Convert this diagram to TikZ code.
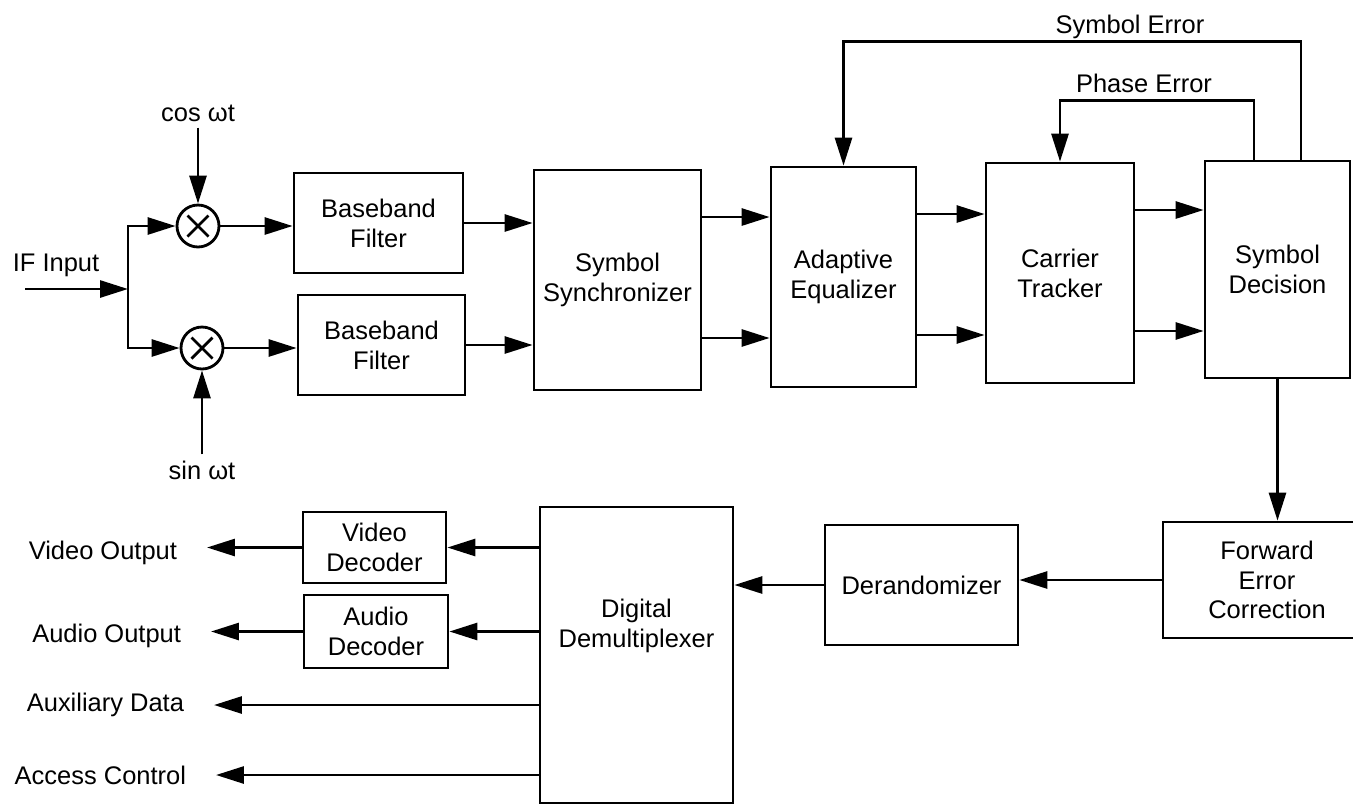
\documentclass[tikz,border=0pt]{standalone}
\usepackage{fontspec}
\setmainfont{Liberation Sans}
\usetikzlibrary{arrows.meta}

\begin{document}
\begin{tikzpicture}[x=0.02cm, y=-0.02cm,
    font=\fontsize{14.5}{17}\selectfont,
    block/.style={draw, line width=1.6pt, align=center, inner sep=0pt},
    mixer/.style={draw, circle, line width=1.6pt, minimum size=0.84cm, inner sep=0pt,
        path picture={\draw[line width=1.6pt]
            ([shift={(-0.21cm,0.21cm)}]path picture bounding box.center) -- ([shift={(0.21cm,-0.21cm)}]path picture bounding box.center)
            ([shift={(-0.21cm,-0.21cm)}]path picture bounding box.center) -- ([shift={(0.21cm,0.21cm)}]path picture bounding box.center);}},
    arr/.style={-{Triangle[length=0.56cm, width=0.34cm]}, line width=1.6pt},
    outlabel/.style={anchor=east, inner xsep=0pt, outer xsep=0.6cm}]
        \useasboundingbox (0,0) rectangle (1353,806);
        \clip (0,0) rectangle (1353,806);

        % Input and mixers
        \coordinate (ifin) at (25,289);
        \coordinate (split) at (128,289);
        \node (iflabel) at (56,265) {IF Input};
        \node[mixer] (mixA) at (198,226) {};
        \node[mixer] (mixB) at (202,348) {};
        \node (cos) at (198,113) {cos ωt};
        \node (sin) at (202,470) {sin ωt};

        % Upper chain
        \node[block, minimum width=3.38cm, minimum height=2cm] (bbf1) at (378.5,223) {Baseband\\Filter};
        \node[block, minimum width=3.34cm, minimum height=2cm] (bbf2) at (381.5,345) {Baseband\\Filter};
        \node[block, minimum width=3.34cm, minimum height=4.4cm] (sync) at (617.5,280) {Symbol\\Synchronizer};
        \node[block, minimum width=2.9cm, minimum height=4.4cm] (eq) at (843.5,277) {Adaptive\\Equalizer};
        \node[block, minimum width=2.96cm, minimum height=4.4cm] (ct) at (1060,273) {Carrier\\Tracker};
        \node[block, minimum width=2.9cm, minimum height=4.34cm] (sd) at (1277.5,269.5) {Symbol\\Decision};

        % Lower chain
        \node[block, minimum width=4.16cm, minimum height=2.32cm] (fec) at (1267,580) {Forward\\Error\\Correction};
        \node[block, minimum width=3.86cm, minimum height=2.4cm] (der) at (921.5,585) {Derandomizer};
        \node[block, minimum width=3.86cm, minimum height=5.92cm] (demux) at (636.5,655) {};
        \node[align=center] (demuxtext) at (636.5,626) {Digital\\Demultiplexer};
        \node[block, minimum width=2.86cm, minimum height=1.42cm] (vdec) at (374.5,547.5) {Video\\Decoder};
        \node[block, minimum width=2.88cm, minimum height=1.46cm] (adec) at (376,631.5) {Audio\\Decoder};

        % Outputs
        \node[outlabel] (vout) at (207,553) {Video Output};
        \node[outlabel] (aout) at (211,636) {Audio Output};
        \node[outlabel] (aux) at (214,705) {Auxiliary Data};
        \node[outlabel] (acc) at (216,775) {Access Control};

        % Feedback labels
        \node (symerr) at (1130,27) {Symbol Error};
        \node (pherr) at (1144,83) {Phase Error};

        % Arrows into the mixers
        \draw[arr] (ifin) -- (split);
        \draw[arr] (split) |- (mixA.west);
        \draw[arr] (split) |- (mixB.west);
        \draw[arr] (cos) -- (mixA);
        \draw[arr] (sin) -- (mixB);
        \draw[arr] (mixA.east) -- (mixA.east -| bbf1.west);
        \draw[arr] (mixB.east) -- (mixB.east -| bbf2.west);
        \draw[arr] (bbf1.east) -- (bbf1.east -| sync.west);
        \draw[arr] (bbf2.east) -- (bbf2.east -| sync.west);

        % Pairs of arrows between the blocks
        \foreach \a/\b in {sync/eq, eq/ct, ct/sd} {
            \draw[arr] ([yshift=1.26cm]\a.east) -- ([yshift=1.26cm]\a.east -| \b.west);
            \draw[arr] ([yshift=-1.16cm]\a.east) -- ([yshift=-1.16cm]\a.east -| \b.west);
        }

        % Error feedback
        \draw[arr] ([xshift=0.47cm]sd.north) |- ([yshift=2.48cm]eq.north) -- (eq.north);
        \draw[arr] ([xshift=-0.47cm]sd.north) |- ([yshift=1.22cm]ct.north) -- (ct.north);

        % Back end
        \draw[arr] (sd.south) -- (sd.south |- fec.north);
        \draw[arr] (fec.west) -- (fec.west -| der.east);
        \draw[arr] (der.west) -- (der.west -| demux.east);
        \draw[arr] (demux.west |- vdec.east) -- (vdec.east);
        \draw[arr] (demux.west |- adec.east) -- (adec.east);
        \draw[arr] (vdec.west) -- (vdec.west -| vout.east);
        \draw[arr] (adec.west) -- (adec.west -| aout.east);
        \draw[arr] (demux.west |- aux.east) -- (aux.east);
        \draw[arr] (demux.west |- acc.east) -- (acc.east);
    \end{tikzpicture}
\end{document}
